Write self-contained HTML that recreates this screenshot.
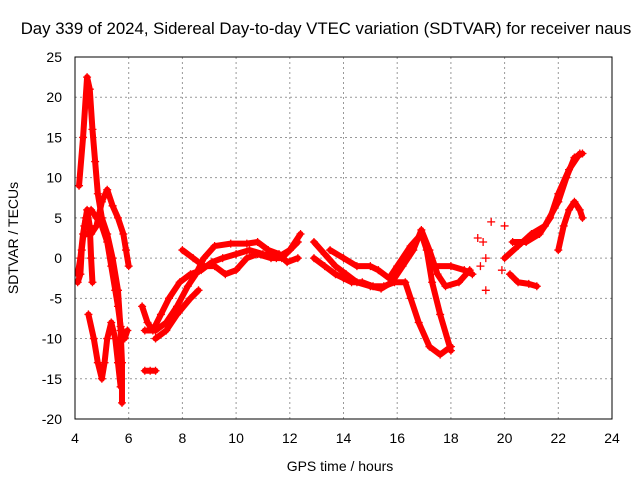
<!DOCTYPE html>
<html><head><meta charset="utf-8"><style>
body{margin:0;background:#fff}
svg{display:block;font-family:"Liberation Sans",sans-serif}
</style></head><body>
<svg id="chart" width="640" height="480">
<text x="326" y="34" font-size="16.8" text-anchor="middle">Day 339 of 2024, Sidereal Day-to-day VTEC variation (SDTVAR) for receiver naus</text>
<text x="340" y="471" font-size="14" text-anchor="middle">GPS time / hours</text>
<text transform="translate(18,238) rotate(-90)" font-size="14" text-anchor="middle">SDTVAR / TECUs</text>
<g id="grid"></g><g id="ticks"></g>
<defs><clipPath id="pc"><rect x="75" y="57" width="537" height="362"/></clipPath></defs>
<g id="marks" clip-path="url(#pc)"></g>
<rect x="75" y="57" width="537" height="362" fill="none" stroke="#000" stroke-width="1"/>
</svg>
<script>
const xTicks=[4,6,8,10,12,14,16,18,20,22,24];
const yTicks=[25,20,15,10,5,0,-5,-10,-15,-20];
const s1=[[4.15,9],[4.3,15],[4.45,22.5],[4.55,21],[4.65,16],[4.75,12],[4.85,8],[5.0,5],[5.2,3],[5.4,0],[5.6,-4],[5.7,-9],[5.75,-13],[5.75,-18]];
const s2=[[4.1,-2],[4.2,0],[4.3,3],[4.4,5],[4.6,6],[4.8,5],[5.0,4],[5.2,2],[5.35,-1],[5.5,-4],[5.6,-6],[5.7,-8.5],[5.85,-10],[5.95,-9]];
const s3=[[4.4,3],[4.6,3],[4.8,4],[5.0,7],[5.2,8.5],[5.4,6.5],[5.6,5],[5.8,3],[5.9,1],[6.0,-1]];
const s4=[[4.5,-7],[4.7,-10],[4.85,-13],[5.0,-15],[5.1,-13],[5.2,-10],[5.35,-8],[5.5,-10],[5.6,-13],[5.7,-16]];
const s5=[[4.1,-3],[4.2,-2],[4.25,1],[4.35,4],[4.45,6],[4.55,4],[4.6,0],[4.65,-3]];
const s6=[[6.6,-14],[6.8,-14],[7.0,-14]];
const m1=[[6.5,-6],[6.7,-8],[6.9,-9],[7.2,-7],[7.5,-5],[7.9,-3],[8.3,-2],[8.7,-1.5],[9.1,-0.5],[9.5,0],[10,0.5],[10.5,1],[11,0.5],[11.5,0],[12,1],[12.4,3]];
const m2=[[6.6,-9],[7.0,-9],[7.4,-8],[7.8,-6],[8.2,-3.5],[8.5,-2],[8.8,0],[9.2,1.5],[9.8,1.8],[10.4,1.8],[10.8,2],[11.2,1],[11.6,0.5],[11.9,-0.5],[12.3,0]];
const m3=[[8,1],[8.4,0],[8.8,-1],[9.2,-1],[9.6,-2],[10.0,-1.5],[10.4,0],[10.8,0.5],[11.3,0],[11.7,0],[12,1],[12.3,2]];
const m4=[[7.0,-10],[7.4,-9],[7.8,-7],[8.3,-5],[8.6,-4]];
const n1=[[12.9,2],[13.3,0.5],[13.7,-1],[14.1,-2],[14.5,-3],[15.0,-3.5],[15.4,-3.8],[15.8,-3],[16.2,-1],[16.6,1],[16.9,3.5],[17.2,1],[17.5,-2],[17.8,-3.5],[18.3,-3],[18.7,-1.5]];
const n2=[[12.9,0],[13.3,-1],[13.7,-2],[14.0,-2.5],[14.3,-3],[14.7,-3],[15.1,-3.5],[15.5,-3.5],[15.9,-3],[16.3,-3],[16.5,-5],[16.8,-8],[17.2,-11],[17.6,-12],[18.0,-11]];
const n3=[[13.5,1],[14.0,0],[14.5,-1],[15,-1],[15.3,-1.5],[15.7,-2.5],[16,-1],[16.5,1.5],[16.9,3],[17.1,1],[17.3,-3],[17.6,-7],[18,-11.5]];
const n4=[[17.4,-1],[18,-1],[18.5,-1.5],[18.8,-2]];
const r1=[[20,0],[20.5,1.5],[21,3],[21.5,4],[22,7],[22.3,10],[22.6,12.5],[22.9,13]];
const r2=[[20.3,2],[20.8,2],[21.3,3],[21.7,5],[22,8],[22.4,11],[22.8,13]];
const r3=[[22,1],[22.2,4],[22.4,6],[22.6,7],[22.8,6],[22.9,5]];
const r4=[[20.2,-2],[20.5,-3],[20.9,-3.2],[21.2,-3.5]];
const scatter=[[19.2,2],[19.5,4.5],[20,4],[19.1,-1],[19.3,-4],[19.3,0],[19.9,-1.5],[19.0,2.5]];
const seriesList=[s1,s2,s3,s4,s5,s6,m1,m2,m3,m4,n1,n2,n3,n4,r1,r2,r3,r4];
const NS="http://www.w3.org/2000/svg";
const X=h=>75+(h-4)*(537/20);
const Y=v=>57+(25-v)*(362/45);
function mk(t,a,p){const e=document.createElementNS(NS,t);for(const k in a)e.setAttribute(k,a[k]);p.appendChild(e);return e;}
const grid=document.getElementById('grid'),ticks=document.getElementById('ticks'),marks=document.getElementById('marks');
xTicks.forEach(t=>{
 if(t>4&&t<24){const g=mk('line',{x1:X(t),x2:X(t),y1:57,y2:419,stroke:'#999','stroke-dasharray':'2,3'},grid);
 }
 const l=mk('text',{x:X(t),y:443,'font-size':14,'text-anchor':'middle'},ticks);l.textContent=t;
 
 
});
yTicks.forEach(t=>{
 if(t>-20&&t<25){const g=mk('line',{x1:75,x2:612,y1:Y(t),y2:Y(t),stroke:'#999','stroke-dasharray':'2,3'},grid);
 }
 const l=mk('text',{x:62,y:Y(t)+5,'font-size':14,'text-anchor':'end'},ticks);l.textContent=t;
 
 
});
function plus(h,v){const x=X(h),y=Y(v);
 const p=mk('path',{d:`M${x-4},${y}H${x+4}M${x},${y-4}V${y+4}`,stroke:'#f00','stroke-width':1.3},marks);
 
 }
seriesList.forEach((s,i)=>{
 const pl=mk('polyline',{points:s.map(p=>X(p[0])+','+Y(p[1])).join(' '),fill:'none',stroke:'#f00','stroke-width':6,'stroke-linejoin':'round','stroke-linecap':'round'},marks);
 
 
 s.forEach(p=>plus(p[0],p[1]));
});
scatter.forEach(p=>plus(p[0],p[1]));
</script>
</body></html>
